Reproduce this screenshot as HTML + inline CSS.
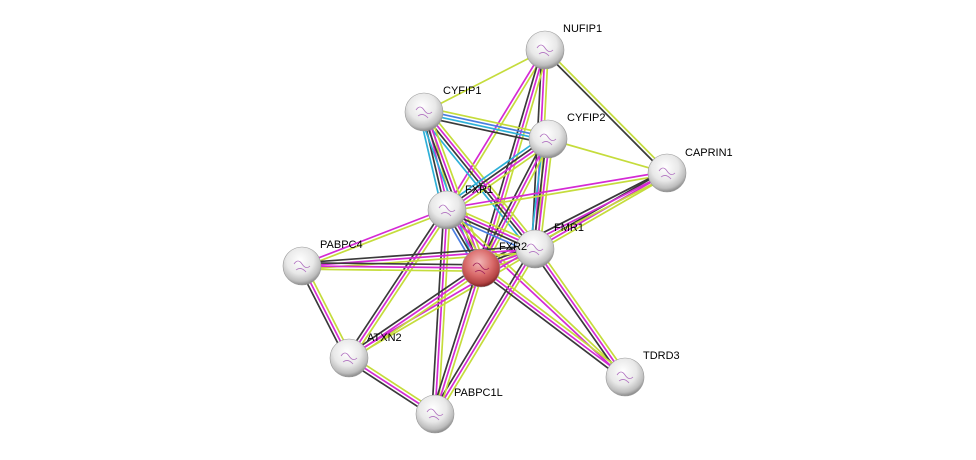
<!DOCTYPE html>
<html><head><meta charset="utf-8"><style>
html,body{margin:0;padding:0;background:#fff;}
svg{display:block;}
text{font-family:"Liberation Sans",sans-serif;font-size:11px;fill:#000;}
</style></head><body>
<svg id="s" width="976" height="460" viewBox="0 0 976 460" xmlns="http://www.w3.org/2000/svg">
<defs>
<radialGradient id="g" cx="45%" cy="35%" r="65%">
<stop offset="0" stop-color="#ffffff"/><stop offset="0.55" stop-color="#e8e8e8"/><stop offset="0.85" stop-color="#bdbdbd"/><stop offset="1" stop-color="#8a8a8a"/>
</radialGradient>
<radialGradient id="r" cx="45%" cy="35%" r="65%">
<stop offset="0" stop-color="#f3b8b8"/><stop offset="0.55" stop-color="#d96a6a"/><stop offset="0.85" stop-color="#b44444"/><stop offset="1" stop-color="#7a2020"/>
</radialGradient>
</defs>
<g id="e"></g><g id="n"></g>
</svg>
<script>
var N={NUFIP1:[545,50],CYFIP1:[424,112],CYFIP2:[548,139],CAPRIN1:[667,173],FXR1:[447,210],FMR1:[535,249],FXR2:[481,268],PABPC4:[302,266],ATXN2:[349,358],PABPC1L:[435,414],TDRD3:[625,377]};
var Y="#c5dc3c",M="#d42ad4",K="#3a3a3a",B="#4a7ee0",C="#2eb0d8";
var E=[["NUFIP1","CYFIP1",[Y]],["NUFIP1","CAPRIN1",[Y,K]],["NUFIP1","FXR1",[Y,M]],["NUFIP1","FMR1",[Y,M,K]],["NUFIP1","FXR2",[Y,M,K]],
["CYFIP1","CYFIP2",[Y,B,C,K]],["CYFIP1","FXR1",[Y,M,K,C]],["CYFIP1","FMR1",[Y,M,K,C]],["CYFIP1","FXR2",[Y,M,K,C]],
["CYFIP2","CAPRIN1",[Y]],["CYFIP2","FXR1",[Y,M,K,C]],["CYFIP2","FMR1",[Y,M,K,C]],["CYFIP2","FXR2",[Y,M,K]],
["CAPRIN1","FXR1",[Y,M]],["CAPRIN1","FMR1",[Y,M,K]],["CAPRIN1","FXR2",[Y,M,K]],
["FXR1","FMR1",[Y,M,K,B]],["FXR1","FXR2",[Y,M,K,B]],["FXR1","PABPC4",[Y,M]],["FXR1","ATXN2",[Y,M,K]],["FXR1","PABPC1L",[Y,M,K]],["FXR1","TDRD3",[Y,M]],
["FMR1","FXR2",[Y,M,K]],["FMR1","PABPC4",[Y,M,K]],["FMR1","ATXN2",[Y,M]],["FMR1","PABPC1L",[Y,M,K]],["FMR1","TDRD3",[Y,M,K]],
["FXR2","PABPC4",[Y,M,K]],["FXR2","ATXN2",[Y,M,K]],["FXR2","PABPC1L",[Y,M,K]],["FXR2","TDRD3",[Y,M,K]],
["PABPC4","ATXN2",[Y,M,K]],["ATXN2","PABPC1L",[Y,M,K]]];
var ns="http://www.w3.org/2000/svg",eg=document.getElementById("e"),ng=document.getElementById("n");
E.forEach(function(d){var a=N[d[0]],b=N[d[1]],dx=b[0]-a[0],dy=b[1]-a[1],L=Math.hypot(dx,dy),px=-dy/L,py=dx/L,n=d[2].length;
d[2].forEach(function(c,i){var o=(i-(n-1)/2)*3.2;var l=document.createElementNS(ns,"line");
l.setAttribute("x1",a[0]+px*o);l.setAttribute("y1",a[1]+py*o);l.setAttribute("x2",b[0]+px*o);l.setAttribute("y2",b[1]+py*o);
l.setAttribute("stroke",c);l.setAttribute("stroke-width","1.7");eg.appendChild(l);});});
var lab={NUFIP1:[563,32],CYFIP1:[443,94],CYFIP2:[567,121],CAPRIN1:[685,156],FXR1:[465,193],FMR1:[554,231],FXR2:[499,250],PABPC4:[320,248],ATXN2:[367,341],PABPC1L:[454,396],TDRD3:[643,359]};
for(var k in N){var p=N[k];var c=document.createElementNS(ns,"circle");c.setAttribute("cx",p[0]);c.setAttribute("cy",p[1]);c.setAttribute("r",19);
c.setAttribute("fill",k=="FXR2"?"url(#r)":"url(#g)");c.setAttribute("stroke","#999");c.setAttribute("stroke-width","0.6");ng.appendChild(c);
var q=document.createElementNS(ns,"path");q.setAttribute("d","M"+(p[0]-8)+" "+(p[1]-2)+" q4 -6 8 0 t8 2 M"+(p[0]-6)+" "+(p[1]+4)+" q5 -4 10 2");
q.setAttribute("stroke",k=="FXR2"?"#a0205a":"#b070c0");q.setAttribute("fill","none");q.setAttribute("stroke-width","0.8");ng.appendChild(q);
var t=document.createElementNS(ns,"text");t.setAttribute("x",lab[k][0]);t.setAttribute("y",lab[k][1]);t.textContent=k;ng.appendChild(t);}
</script>
</body></html>
